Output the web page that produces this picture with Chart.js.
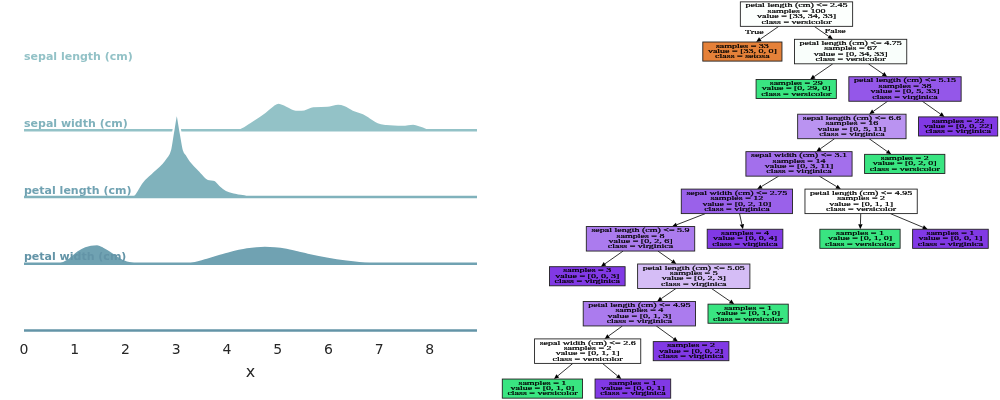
<!DOCTYPE html>
<html><head><meta charset="utf-8">
<script src="https://cdn.jsdelivr.net/npm/chart.js@4.4.1/dist/chart.umd.min.js"></script>
<style>
html,body{margin:0;padding:0;background:#fff;}
#wrap{position:relative;width:1000px;height:400px;overflow:hidden;}
#c1{position:absolute;left:0;top:0;}
#c2{position:absolute;left:500px;top:0;}
</style></head><body>
<div id="wrap">
<canvas id="c1" width="490" height="400"></canvas>
<canvas id="c2" width="500" height="400"></canvas>
</div>
<script>
// ================= DATA =================
const featureNames = ["sepal length (cm)", "sepal width (cm)", "petal length (cm)", "petal width (cm)"];
const rowColors = ["#93c2c7", "#80b2bc", "#70a2b2", "#6394a7"];
const xTicks = [0, 1, 2, 3, 4, 5, 6, 7, 8];
const xAxisRange = [0, 8.93];

// density curves (x in cm, height in row units)
const sepalLengthX = [4.0,4.2,4.45,4.72,4.91,5.02,5.16,5.36,5.47,5.7,5.98,6.19,6.33,6.49,6.69,6.82,6.98,7.15,7.47,7.67,7.84,8.0,8.1];
const sepalLengthD = [0,0.015,0.12,0.255,0.375,0.412,0.375,0.307,0.307,0.36,0.367,0.397,0.375,0.307,0.255,0.195,0.12,0.094,0.082,0.097,0.064,0.015,0];
const sepalWidthX = [2.10,2.18,2.32,2.52,2.71,2.81,2.88,2.94,3.01,3.09,3.15,3.21,3.30,3.47,3.63,3.76,3.86,3.99,4.19,4.39,4.5];
const sepalWidthD = [0,0.045,0.217,0.367,0.502,0.599,0.704,0.974,1.236,0.952,0.704,0.629,0.525,0.39,0.27,0.255,0.18,0.102,0.06,0.03,0];
const petalLengthX = [0.5,0.7,0.85,1.04,1.2,1.44,1.57,1.7,1.95,2.15,2.4,2.8,3.2,3.6,4.0,4.39,4.75,5.18,5.4,5.6,6.0,6.36,6.82,7.27,7.7];
const petalLengthD = [0,0.022,0.075,0.195,0.262,0.292,0.255,0.195,0.075,0.03,0.01,0.004,0.015,0.09,0.18,0.247,0.27,0.24,0.202,0.165,0.105,0.064,0.025,0.007,0];
const petalWidthX = [];
const petalWidthD = [];

// decision tree (sklearn-style arrays, preorder)
const classNames = ["setosa", "versicolor", "virginica"];
const classColors = ["#e58139", "#39e581", "#8139e5"];
const treeLeft      = [1,-1,3,-1,5,6,7,8,9,-1,11,12,13,-1,-1,-1,-1,-1,19,-1,-1,-1,-1];
const treeRight     = [2,-1,4,-1,22,21,18,17,10,-1,16,15,14,-1,-1,-1,-1,-1,20,-1,-1,-1,-1];
const treeFeature   = [2,-2,2,-2,2,0,1,1,0,-2,2,2,1,-2,-2,-2,-2,-2,2,-2,-2,-2,-2];
const treeThreshold = [2.45,null,4.75,null,5.15,6.6,3.1,2.75,5.9,null,5.05,4.95,2.6,null,null,null,null,null,4.95,null,null,null,null];
const treeSamples   = [100,33,67,29,38,16,14,12,8,3,5,4,2,1,1,2,1,4,2,1,1,2,22];
const treeValue = [[33,34,33],[33,0,0],[0,34,33],[0,29,0],[0,5,33],[0,5,11],[0,3,11],[0,2,10],[0,2,6],[0,0,3],[0,2,3],[0,1,3],[0,1,1],[0,1,0],[0,0,1],[0,0,2],[0,1,0],[0,0,4],[0,1,1],[0,1,0],[0,0,1],[0,2,0],[0,0,22]];
const edgeLabels = ["True", "False"];

// ================= RIDGELINE CHART =================
const rowsX = [sepalLengthX, sepalWidthX, petalLengthX, petalWidthX];
const rowsD = [sepalLengthD, sepalWidthD, petalLengthD, petalWidthD];
const nRows = featureNames.length;
const ROW_BOTTOM_PX = 330.5, ROW_SEP_PX = 66.73, PLOT_H = 400;
const datasets = [];
let seq = 0;
const total = nRows * 2;
for (let i = 0; i < nRows; i++) {
  const base = nRows - 1 - i;
  if (rowsX[i].length) {
    datasets.push({
      data: rowsX[i].map((x, k) => ({x, y: base + rowsD[i][k]})),
      fill: {value: base}, backgroundColor: rowColors[i],
      borderColor: '#ffffff', borderWidth: 2, pointRadius: 0,
      cubicInterpolationMode: 'monotone', clip: false, order: total - (seq++)
    });
  }
  datasets.push({
    data: [{x: xAxisRange[0], y: base}, {x: xAxisRange[1], y: base}],
    fill: false, borderColor: rowColors[i], borderWidth: 2.4, pointRadius: 0,
    clip: false, order: total - (seq++)
  });
}

const rowLabelPlugin = {
  id: 'rowLabels',
  afterDatasetsDraw(chart) {
    const {ctx} = chart, xs = chart.scales.x, ys = chart.scales.y;
    ctx.save();
    ctx.font = 'bold 11px "DejaVu Sans"';
    ctx.textAlign = 'left'; ctx.textBaseline = 'alphabetic';
    featureNames.forEach((name, i) => {
      ctx.fillStyle = rowColors[i];
      ctx.fillText(name, xs.getPixelForValue(xAxisRange[0]), ys.getPixelForValue(nRows - i) - 3.5);
    });
    ctx.restore();
  }
};

new Chart(document.getElementById('c1'), {
  type: 'line',
  data: {datasets},
  options: {
    responsive: false, animation: false, events: [],
    layout: {padding: {left: 24, right: 13, top: 0, bottom: 0}},
    plugins: {legend: {display: false}, tooltip: {enabled: false}},
    scales: {
      x: {
        type: 'linear', min: xAxisRange[0], max: xAxisRange[1],
        grid: {display: false, drawTicks: false}, border: {display: false},
        ticks: {color: '#262626', font: {family: 'DejaVu Sans', size: 14}, padding: 11},
        afterBuildTicks: s => { s.ticks = xTicks.map(v => ({value: v})); },
        afterFit: s => { s.height = PLOT_H - ROW_BOTTOM_PX; },
        title: {display: true, text: 'x', color: '#262626', font: {family: 'DejaVu Sans', size: 16}, padding: {top: 0, bottom: 18}}
      },
      y: {display: false, min: 0, max: ROW_BOTTOM_PX / ROW_SEP_PX}
    }
  },
  plugins: [rowLabelPlugin]
});

// ================= DECISION TREE =================
const TREE_FONT = '10px "Liberation Serif"';
const TEXT_VSCALE = 0.56, LINE_H = 5.4, PAD_X = 5.1, PAD_Y = 1.45;
const SIB_GAP = 12.5, SUB_GAP = 37, RANK_SEP = 37.45;
const TREE_W = 500, TREE_H = 400;
const nNodes = treeSamples.length;

function argmax(v) { let k = 0; v.forEach((x, i) => { if (x > v[k]) k = i; }); return k; }
function nodeText(i) {
  const L = [];
  if (treeLeft[i] !== -1) L.push(`${featureNames[treeFeature[i]]} <= ${treeThreshold[i]}`);
  L.push(`samples = ${treeSamples[i]}`);
  L.push(`value = [${treeValue[i].join(', ')}]`);
  L.push(`class = ${classNames[argmax(treeValue[i])]}`);
  return L;
}
function nodeColor(v) {
  const s = v.reduce((a, b) => a + b, 0);
  const p = v.map(x => x / s);
  const sp = [...p].sort((a, b) => b - a);
  const alpha = sp[1] === 1 ? 0 : (sp[0] - sp[1]) / (1 - sp[1]);
  const hex = classColors[argmax(v)];
  const rgb = [1, 3, 5].map(o => parseInt(hex.substr(o, 2), 16));
  const c = rgb.map(ch => Math.round(alpha * ch + (1 - alpha) * 255));
  return `rgb(${c[0]},${c[1]},${c[2]})`;
}

const mctx = document.createElement('canvas').getContext('2d');
mctx.font = TREE_FONT;
const lines = [], W = [], H = [];
for (let i = 0; i < nNodes; i++) {
  const L = nodeText(i);
  lines.push(L);
  W.push(Math.max(...L.map(s => mctx.measureText(s).width)) + 2 * PAD_X);
  H.push(L.length * LINE_H + 2 * PAD_Y);
}

const shift = new Array(nNodes).fill(0), half = new Array(nNodes).fill(0), depth = new Array(nNodes).fill(0);
function layoutSub(i, d) {
  depth[i] = d;
  const a = treeLeft[i], b = treeRight[i];
  if (a === -1) return {l: [-W[i] / 2], r: [W[i] / 2]};
  const ca = layoutSub(a, d + 1), cb = layoutSub(b, d + 1);
  const n = Math.min(ca.l.length, cb.l.length);
  let D = 0;
  for (let k = 0; k < n; k++) D = Math.max(D, ca.r[k] - cb.l[k] + (k === 0 ? SIB_GAP : SUB_GAP));
  const excess = D - ((W[a] + W[b]) / 2 + SIB_GAP);
  if (excess > 0.01) {
    const allowA = treeLeft[a] === -1 ? 0 : Math.max(0, half[a] + shift[treeRight[a]]);
    const allowB = treeLeft[b] === -1 ? 0 : Math.max(0, half[b] - shift[treeLeft[b]]);
    let mA = Math.min(allowA, excess / 2), mB = Math.min(allowB, excess / 2);
    mA = Math.min(allowA, excess - mB); mB = Math.min(allowB, excess - mA);
    shift[a] = mA; shift[b] = -mB;
  }
  half[i] = D / 2;
  ca.l[0] = shift[a] - W[a] / 2; ca.r[0] = shift[a] + W[a] / 2;
  cb.l[0] = shift[b] - W[b] / 2; cb.r[0] = shift[b] + W[b] / 2;
  const l = [-W[i] / 2], r = [W[i] / 2];
  const m = Math.max(ca.l.length, cb.l.length);
  for (let k = 0; k < m; k++) {
    l.push(k < ca.l.length ? -D / 2 + ca.l[k] : D / 2 + cb.l[k]);
    r.push(k < cb.r.length ? D / 2 + cb.r[k] : -D / 2 + ca.r[k]);
  }
  return {l, r};
}
layoutSub(0, 0);
const X = new Array(nNodes);
function place(i, fx) {
  X[i] = fx + shift[i];
  if (treeLeft[i] !== -1) { place(treeLeft[i], fx - half[i]); place(treeRight[i], fx + half[i]); }
}
place(0, 0);
let minX = Infinity, maxX = -Infinity;
for (let i = 0; i < nNodes; i++) { minX = Math.min(minX, X[i] - W[i] / 2); maxX = Math.max(maxX, X[i] + W[i] / 2); }
const cx = (minX + maxX) / 2;
const maxDepth = Math.max(...depth);
// vertical: centre the box extents in the canvas
let topExt = 0, botExt = 0;
for (let i = 0; i < nNodes; i++) {
  topExt = Math.max(topExt, H[i] / 2 - depth[i] * RANK_SEP);
  botExt = Math.max(botExt, depth[i] * RANK_SEP + H[i] / 2);
}
const rank0Px = (TREE_H - (topExt + botExt)) / 2 + topExt;
const yMin = -rank0Px / RANK_SEP, yMax = (TREE_H - rank0Px) / RANK_SEP;

const treePlugin = {
  id: 'treeDraw',
  afterDatasetsDraw(chart) {
    const {ctx} = chart, xs = chart.scales.x, ys = chart.scales.y;
    const P = i => [xs.getPixelForValue(X[i]), ys.getPixelForValue(depth[i])];
    ctx.save();
    // edges
    ctx.strokeStyle = '#000'; ctx.fillStyle = '#000'; ctx.lineWidth = 0.8;
    const edgeSeg = (i, c) => {
      const [x0, y0] = P(i), [x1, y1] = P(c);
      const dx = x1 - x0, dy = y1 - y0;
      const t0 = Math.min((H[i] / 2) / Math.abs(dy), dx ? (W[i] / 2) / Math.abs(dx) : Infinity);
      const t1 = 1 - Math.min((H[c] / 2) / Math.abs(dy), dx ? (W[c] / 2) / Math.abs(dx) : Infinity);
      return [x0 + dx * t0, y0 + dy * t0, x0 + dx * t1, y0 + dy * t1];
    };
    for (let i = 0; i < nNodes; i++) {
      if (treeLeft[i] === -1) continue;
      [treeLeft[i], treeRight[i]].forEach(c => {
        const [sx, sy, ex, ey] = edgeSeg(i, c);
        const len = Math.hypot(ex - sx, ey - sy), ux = (ex - sx) / len, uy = (ey - sy) / len;
        const AL = 5, AW = 2.2;
        ctx.beginPath(); ctx.moveTo(sx, sy); ctx.lineTo(ex - ux * AL, ey - uy * AL); ctx.stroke();
        ctx.beginPath(); ctx.moveTo(ex, ey);
        ctx.lineTo(ex - ux * AL - uy * AW, ey - uy * AL + ux * AW);
        ctx.lineTo(ex - ux * AL + uy * AW, ey - uy * AL - ux * AW);
        ctx.closePath(); ctx.fill();
      });
    }
    // boxes + text
    ctx.font = TREE_FONT; ctx.textAlign = 'center'; ctx.textBaseline = 'middle';
    const drawText = (s, x, y) => {
      ctx.save();
      ctx.translate(x, y);
      ctx.scale(1, TEXT_VSCALE);
      ctx.fillStyle = '#000'; ctx.strokeStyle = '#000'; ctx.lineWidth = 0.35;
      ctx.fillText(s, 0, 0);
      ctx.strokeText(s, 0, 0);
      ctx.restore();
    };
    for (let i = 0; i < nNodes; i++) {
      const [px, py] = P(i);
      const x0 = px - W[i] / 2, y0 = py - H[i] / 2;
      ctx.fillStyle = nodeColor(treeValue[i]);
      ctx.fillRect(x0, y0, W[i], H[i]);
      ctx.strokeStyle = '#222'; ctx.lineWidth = 0.9;
      ctx.strokeRect(x0, y0, W[i], H[i]);
      const L = lines[i];
      L.forEach((s, k) => drawText(s, px, py + (k - (L.length - 1) / 2) * LINE_H));
    }
    // True / False labels on the root edges
    [treeLeft[0], treeRight[0]].forEach((c, k) => {
      const [sx, sy, ex, ey] = edgeSeg(0, c);
      const lx = sx + (ex - sx) * 0.35 + (k === 0 ? -16.5 : 14.5);
      const ly = sy + (ey - sy) * 0.35 + 0.5;
      drawText(edgeLabels[k], lx, ly);
    });
    ctx.restore();
  }
};

new Chart(document.getElementById('c2'), {
  type: 'scatter',
  data: {datasets: [{data: X.map((x, i) => ({x, y: depth[i]})), pointRadius: 0, showLine: false}]},
  options: {
    responsive: false, animation: false, events: [],
    layout: {padding: 0},
    plugins: {legend: {display: false}, tooltip: {enabled: false}},
    scales: {
      x: {display: false, type: 'linear', min: cx - TREE_W / 2, max: cx + TREE_W / 2},
      y: {display: false, type: 'linear', reverse: true, min: yMin, max: yMax}
    }
  },
  plugins: [treePlugin]
});
</script>
</body></html>
